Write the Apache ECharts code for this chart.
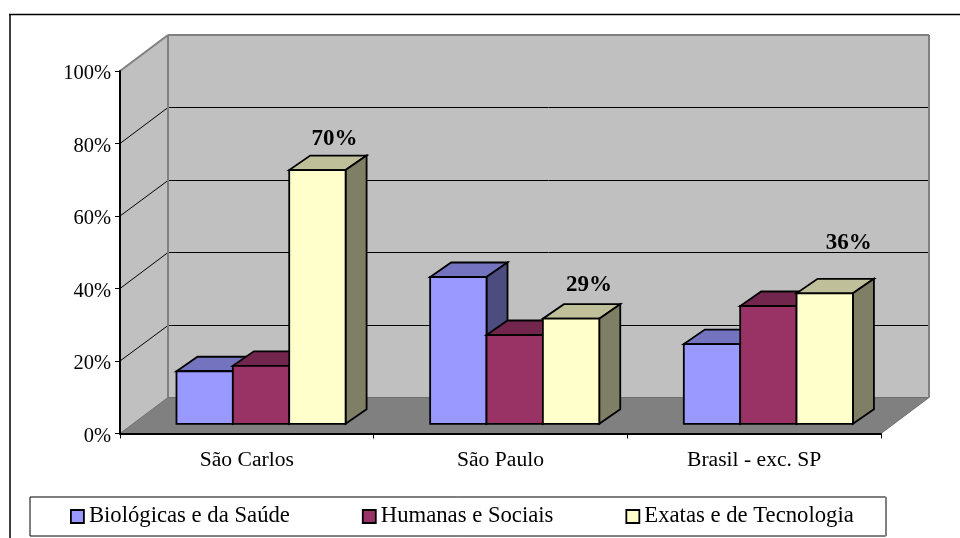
<!DOCTYPE html>
<html><head><meta charset="utf-8">
<style>html,body{margin:0;padding:0;background:#fff}#c{width:960px;height:538px}</style>
<script src="https://cdn.jsdelivr.net/npm/echarts@6/dist/echarts.min.js"></script>
</head><body><div id="c"></div>
<script>
const categories = ['São Carlos', 'São Paulo', 'Brasil - exc. SP'];
const biologicas = [14.5, 40.5, 22];
const humanas = [16, 24.5, 32.5];
const exatas = [70, 29, 36];
const yTicks = [0, 20, 40, 60, 80, 100];
const seriesNames = ['Biológicas e da Saúde', 'Humanas e Sociais', 'Exatas e de Tecnologia'];

const FONT = '"Liberation Serif","Times New Roman",serif';
const WALL = {dx: 48, dy: 36};
const BAR = {shiftX: 14.2, shiftY: 9.7, dx: 21, dy: 14.5};
const LABEL_SHIFT = [[17, -31], [18, -33.5], [24, -50]];
const PAL = [
  {f: '#9999FF', t: '#7373BF', s: '#4C4C7F'},
  {f: '#993366', t: '#73264D', s: '#4C1933'},
  {f: '#FFFFCC', t: '#BFBF99', s: '#7F7F66'}
];

function poly(pts, fill, stroke, lw) {
  return {type: 'polygon', shape: {points: pts}, style: {fill: fill, stroke: stroke || 'none', lineWidth: lw || 0, lineJoin: 'miter'}};
}
function seg(a, b, color, lw) {
  return {type: 'line', shape: {x1: a[0], y1: a[1], x2: b[0], y2: b[1]}, style: {stroke: color, lineWidth: lw}};
}
function wallsItem(params, api) {
  const cs = params.coordSys;
  const L = cs.x, R = cs.x + cs.width;
  const y0 = api.coord([0, 0])[1], y1 = api.coord([0, 100])[1];
  const d = WALL.dx, e = WALL.dy;
  const kids = [
    poly([[L, y0], [L + d, y0 - e], [L + d, y1 - e], [L, y1]], '#C0C0C0'),
    poly([[L + d, y0 - e], [R + d, y0 - e], [R + d, y1 - e], [L + d, y1 - e]], '#C0C0C0'),
    poly([[L, y0], [R, y0], [R + d, y0 - e], [L + d, y0 - e]], '#808080')
  ];
  yTicks.slice(1, -1).forEach(function (t) {
    const y = api.coord([0, t])[1];
    const yb = Math.floor(y - e) + 0.5;
    kids.push(seg([L, y], [L + d, yb], '#000', 1));
    kids.push(seg([L + d, yb], [R + d, yb], '#000', 1));
  });
  kids.push(seg([L, y1], [L + d, y1 - e], '#808080', 2));
  kids.push(seg([L + d, y1 - e], [R + d, y1 - e], '#808080', 2));
  kids.push(seg([L + d, y1 - e], [L + d, y0 - e], '#808080', 2));
  kids.push(seg([R + d, y1 - e], [R + d, y0 - e], '#808080', 2));
  kids.push(seg([L + d, y0 - e], [R + d, y0 - e], '#6E6E6E', 1));
  kids.push(seg([L, y0], [L + d, y0 - e], '#6E6E6E', 1));
  kids.push(seg([R, y0], [R + d, y0 - e], '#6E6E6E', 1));
  return {type: 'group', children: kids};
}
function barRenderer(k, showLabel) {
  return function (params, api) {
    const i = api.value(0), v = api.value(1);
    const band = api.size([1, 0])[0];
    const w = band / 4.5;
    const c = api.coord([i, v]);
    const yb = api.coord([i, 0])[1] - BAR.shiftY;
    const yt = c[1] - BAR.shiftY;
    const xl = c[0] - 1.5 * w + k * w + BAR.shiftX;
    const xr = xl + w;
    const dx = BAR.dx, dy = BAR.dy;
    const lw = 1.8, st = '#000';
    const kids = [
      poly([[xl, yt], [xr, yt], [xr + dx, yt - dy], [xl + dx, yt - dy]], PAL[k].t, st, lw),
      poly([[xr, yt], [xr + dx, yt - dy], [xr + dx, yb - dy], [xr, yb]], PAL[k].s, st, lw),
      poly([[xl, yt], [xr, yt], [xr, yb], [xl, yb]], PAL[k].f, st, lw)
    ];
    if (showLabel) {
      const sh = LABEL_SHIFT[i];
      kids.push({type: 'text', z2: 10, style: {
        text: v + '%', x: (xl + xr) / 2 + sh[0], y: yt + sh[1], align: 'center', verticalAlign: 'middle',
        font: 'bold 23px ' + FONT, fill: '#000'
      }});
    }
    return {type: 'group', children: kids};
  };
}
const values = [biologicas, humanas, exatas];
const chart = echarts.init(document.getElementById('c'), null, {width: 960, height: 538});
chart.setOption({
  animation: false,
  backgroundColor: '#fff',
  graphic: [
    {type: 'line', shape: {x1: 9, y1: 14.5, x2: 960, y2: 14.5}, style: {stroke: '#000', lineWidth: 1.5}, silent: true, z: 100},
    {type: 'line', shape: {x1: 10, y1: 14, x2: 10, y2: 538}, style: {stroke: '#000', lineWidth: 1.5}, silent: true, z: 100},
    {type: 'line', shape: {x1: 886, y1: 497, x2: 886, y2: 536}, style: {stroke: '#808080', lineWidth: 2}, silent: true, z: 100}
  ],
  grid: {left: 120, top: 71, width: 761, height: 362.5, containLabel: false},
  legend: {
    left: 30, top: 497, orient: 'horizontal', padding: [8, 32, 8, 40], itemGap: 72,
    borderColor: '#000', borderWidth: 1, backgroundColor: '#fff',
    itemWidth: 13, itemHeight: 13, itemStyle: {borderColor: '#000', borderWidth: 1.8},
    textStyle: {fontFamily: FONT, fontSize: 22.7, color: '#000'},
    data: seriesNames.map(function (n) { return {name: n, icon: 'rect'}; })
  },
  xAxis: {type: 'category', data: categories, z: 5,
    axisLine: {lineStyle: {color: '#000', width: 2}}, axisTick: {show: true, length: 5, alignWithLabel: false, lineStyle: {color: '#000', width: 1}},
    axisLabel: {fontFamily: FONT, fontSize: 21.6, color: '#000', margin: 16}},
  yAxis: {type: 'value', min: 0, max: 100, interval: 20, z: 5,
    splitLine: {show: false},
    axisLine: {show: true, lineStyle: {color: '#000', width: 2}}, axisTick: {show: true, length: 5, lineStyle: {color: '#000', width: 1}},
    axisLabel: {fontFamily: FONT, fontSize: 20.5, color: '#000', margin: 9, verticalAlign: 'top', lineHeight: 6, formatter: '{value}%'}},
  series: [
    {type: 'custom', name: '_walls', silent: true, z: 1, data: [[0, 0]], renderItem: wallsItem, legendHoverLink: false}
  ].concat(seriesNames.map(function (n, k) {
    return {type: 'custom', name: n, z: 2 + k, itemStyle: {color: PAL[k].f},
      data: values[k].map(function (v, i) { return [i, v]; }),
      encode: {x: 0, y: 1}, renderItem: barRenderer(k, k === 2)};
  }))
});
</script></body></html>
